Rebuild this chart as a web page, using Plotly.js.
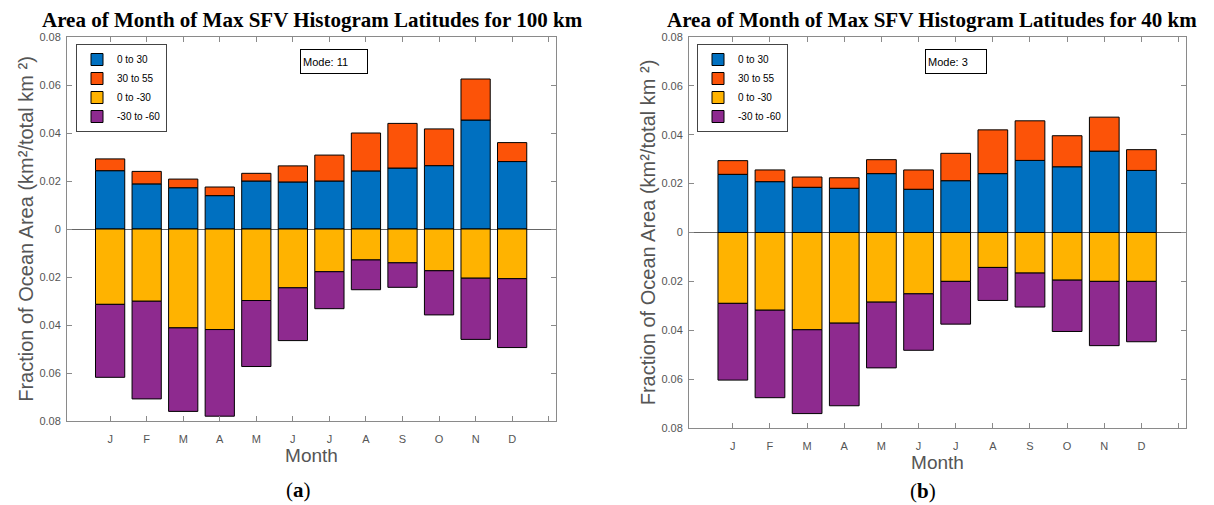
<!DOCTYPE html>
<html>
<head>
<meta charset="utf-8">
<script src="https://cdn.plot.ly/plotly-3.0.1.min.js"></script>
<style>html,body{margin:0;padding:0;background:#fff;} #chart{width:1214px;height:505px;}</style>
</head>
<body>
<div id="chart"></div>
<script>
// ---- data ----
const monthNum = [1, 2, 3, 4, 5, 6, 7, 8, 9, 10, 11, 12];
const monthLabels = ['J', 'F', 'M', 'A', 'M', 'J', 'J', 'A', 'S', 'O', 'N', 'D'];
const seriesNames = ['0 to 30', '30 to 55', '0 to -30', '-30 to -60'];
const yTickVals = [-0.08, -0.06, -0.04, -0.02, 0, 0.02, 0.04, 0.06, 0.08];
const yTickText = ['0.08', '0.06', '0.04', '0.02', '0', '0.02', '0.04', '0.06', '0.08'];

// (a) 100 km
const a_0to30    = [0.0243, 0.0188, 0.0172, 0.0139, 0.0200, 0.0196, 0.0200, 0.0242, 0.0254, 0.0264, 0.0454, 0.0281];
const a_30to55   = [0.0049, 0.0052, 0.0036, 0.0036, 0.0032, 0.0067, 0.0108, 0.0158, 0.0186, 0.0153, 0.0171, 0.0079];
const a_0toM30   = [-0.0314, -0.0301, -0.0412, -0.0419, -0.0298, -0.0245, -0.0178, -0.0129, -0.0141, -0.0174, -0.0205, -0.0207];
const a_M30toM60 = [-0.0304, -0.0407, -0.0348, -0.0361, -0.0275, -0.0220, -0.0154, -0.0124, -0.0102, -0.0184, -0.0255, -0.0287];
const a_mode = 11;

// (b) 40 km
const b_0to30    = [0.0238, 0.0208, 0.0185, 0.0181, 0.0241, 0.0177, 0.0212, 0.0241, 0.0295, 0.0269, 0.0333, 0.0254];
const b_30to55   = [0.0056, 0.0048, 0.0042, 0.0043, 0.0057, 0.0079, 0.0112, 0.0179, 0.0162, 0.0127, 0.0139, 0.0085];
const b_0toM30   = [-0.0290, -0.0318, -0.0398, -0.0371, -0.0285, -0.0251, -0.0200, -0.0143, -0.0166, -0.0195, -0.0200, -0.0200];
const b_M30toM60 = [-0.0314, -0.0358, -0.0343, -0.0338, -0.0269, -0.0231, -0.0175, -0.0135, -0.0139, -0.0210, -0.0263, -0.0247];
const b_mode = 3;

// ---- styling ----
const colors = ['#0070C0', '#FC5308', '#FFB300', '#8E2A8F'];
const grey = '#555555';
const axisLine = '#8a8a8a';

function makeTraces(vals, xa, ya, legendId) {
  return vals.map((v, i) => ({
    type: 'bar',
    x: monthNum,
    y: v,
    name: seriesNames[i],
    xaxis: xa, yaxis: ya,
    legend: legendId,
    width: 0.8,
    marker: {color: colors[i], line: {color: '#000', width: 1}},
    hoverinfo: 'x+y+name'
  }));
}

const traces = [
  ...makeTraces([a_0to30, a_30to55, a_0toM30, a_M30toM60], 'x', 'y', 'legend'),
  ...makeTraces([b_0to30, b_30to55, b_0toM30, b_M30toM60], 'x2', 'y2', 'legend2')
];

function xAxis(domain, anchor) {
  return {
    domain: domain, anchor: anchor,
    range: [-0.18, 13.2],
    tickmode: 'array',
    tickvals: monthNum,
    ticktext: monthLabels,
    ticks: 'inside', ticklen: 5, tickcolor: axisLine,
    minor: {tickmode: 'array', tickvals: [13], ticks: 'inside', ticklen: 5, tickcolor: axisLine, showgrid: false},
    showline: true, linecolor: axisLine, linewidth: 1, mirror: 'ticks',
    showgrid: false, zeroline: false,
    ticklabelstandoff: 8,
    tickfont: {family: 'Liberation Sans, Arial, sans-serif', size: 11, color: grey},
    title: {text: 'Month', font: {family: 'Liberation Sans, Arial, sans-serif', size: 19, color: grey}, standoff: 4}
  };
}
function yAxis(domain, anchor) {
  return {
    domain: domain, anchor: anchor,
    range: [-0.08, 0.08],
    tickmode: 'array',
    tickvals: yTickVals, ticktext: yTickText,
    ticks: 'inside', ticklen: 5, tickcolor: axisLine,
    showline: true, linecolor: axisLine, linewidth: 1, mirror: 'ticks',
    showgrid: false,
    zeroline: true, zerolinecolor: '#666', zerolinewidth: 1,
    ticklabelstandoff: 3,
    tickfont: {family: 'Liberation Sans, Arial, sans-serif', size: 11, color: grey},
    title: {text: 'Fraction of Ocean Area (km²/total km ²)',
            font: {family: 'Liberation Sans, Arial, sans-serif', size: 20, color: grey}, standoff: 0}
  };
}

const legendBase = {
  font: {family: 'Liberation Sans, Arial, sans-serif', size: 10, color: '#000'},
  bgcolor: '#fff', bordercolor: '#444', borderwidth: 1,
  traceorder: 'normal', xanchor: 'left', yanchor: 'top', itemclick: false
};

const titleFont = {family: 'Liberation Serif, Times New Roman, serif', size: 21, color: '#000', weight: 'bold'};
const modeFont = {family: 'Liberation Sans, Arial, sans-serif', size: 11, color: '#000'};

const layout = {
  width: 1214, height: 505,
  margin: {l: 0, r: 0, t: 0, b: 0},
  paper_bgcolor: '#fff', plot_bgcolor: '#fff',
  barmode: 'relative', bargap: 0.2,
  showlegend: true,
  xaxis: xAxis([67 / 1214, 556 / 1214], 'y'),
  yaxis: yAxis([1 - 421 / 505, 1 - 37 / 505], 'x'),
  xaxis2: xAxis([689 / 1214, 1186 / 1214], 'y2'),
  yaxis2: yAxis([1 - 428 / 505, 1 - 37 / 505], 'x2'),
  legend: Object.assign({x: 76 / 1214, y: 1 - 44 / 505}, legendBase),
  legend2: Object.assign({x: 697 / 1214, y: 1 - 44 / 505}, legendBase),
  annotations: [
    {xref: 'paper', yref: 'paper', x: 312 / 1214, y: 1 - 20 / 505, xanchor: 'center', yanchor: 'middle',
     text: 'Area of Month of Max SFV Histogram Latitudes for 100 km', showarrow: false, font: titleFont},
    {xref: 'paper', yref: 'paper', x: 932 / 1214, y: 1 - 20 / 505, xanchor: 'center', yanchor: 'middle',
     text: 'Area of Month of Max SFV Histogram Latitudes for 40 km', showarrow: false, font: titleFont},
    {xref: 'paper', yref: 'paper', x: 334 / 1214, y: 1 - 61 / 505, xanchor: 'center', yanchor: 'middle',
     text: 'Mode: ' + a_mode, showarrow: false, font: modeFont, align: 'left', width: 62, height: 19,
     bordercolor: '#000', borderwidth: 1, borderpad: 2, bgcolor: '#fff'},
    {xref: 'paper', yref: 'paper', x: 956 / 1214, y: 1 - 61 / 505, xanchor: 'center', yanchor: 'middle',
     text: 'Mode: ' + b_mode, showarrow: false, font: modeFont, align: 'left', width: 56, height: 19,
     bordercolor: '#000', borderwidth: 1, borderpad: 2, bgcolor: '#fff'},
    {xref: 'paper', yref: 'paper', x: 298 / 1214, y: 1 - 490 / 505, xanchor: 'center', yanchor: 'middle',
     text: '(<b>a</b>)', showarrow: false, font: {family: 'Liberation Serif, serif', size: 21, color: '#000'}},
    {xref: 'paper', yref: 'paper', x: 923 / 1214, y: 1 - 491 / 505, xanchor: 'center', yanchor: 'middle',
     text: '(<b>b</b>)', showarrow: false, font: {family: 'Liberation Serif, serif', size: 21, color: '#000'}}
  ]
};

Plotly.newPlot('chart', traces, layout, {displayModeBar: false});
</script>
</body>
</html>
